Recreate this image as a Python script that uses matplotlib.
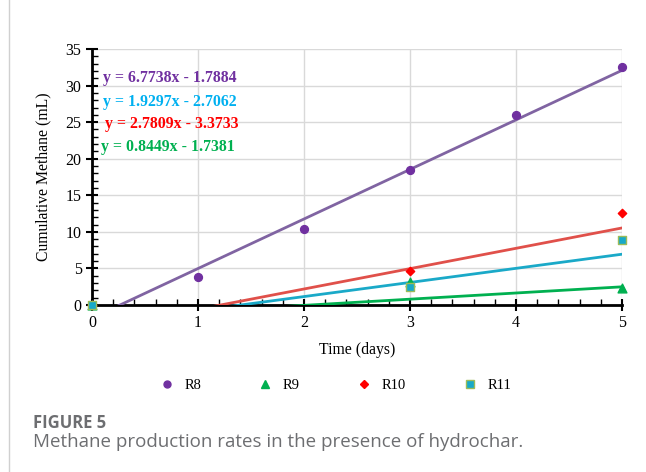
import numpy as np
import matplotlib.pyplot as plt
from matplotlib.ticker import MultipleLocator
from matplotlib.lines import Line2D

# data
days = [0, 1, 2, 3, 4, 5]
r8 = [0, 3.8, 10.4, 18.4, 26.0, 32.5]
days_b = [0, 3, 5]
r9 = [0, 3.1, 2.3]
r10 = [0, 4.7, 12.6]
r11 = [0, 2.4, 8.9]

series_names = ['R8', 'R9', 'R10', 'R11']
slopes = [6.7738, 0.8449, 2.7809, 1.9297]
intercepts = [-1.7884, -1.7381, -3.3733, -2.7062]

serif = ['Liberation Serif', 'DejaVu Serif']

fig = plt.figure(figsize=(6.46, 4.72), dpi=100)
ax = fig.add_axes([0.1424, 0.3538, 0.8204, 0.5424])

# trend lines
line_cols = ['#8064A2', '#00B050', '#E0504A', '#1AA9C8']
xx = np.linspace(0, 5, 200)
for k in range(4):
    yy = slopes[k] * xx + intercepts[k]
    ax.plot(xx, yy, color=line_cols[k], lw=2, zorder=3)

# points
ax.scatter(days, r8, marker='o', s=32, color='#7030A0', zorder=5, clip_on=False)
ax.scatter(days_b, r9, marker='^', s=40, color='#00B050', zorder=5, clip_on=False)
ax.scatter(days_b, r10, marker='D', s=18, color='#FF0000', zorder=5, clip_on=False)
ax.scatter(days_b, r11, marker='s', s=40, color='#17A9C9', edgecolors='#9BBB59',
           linewidths=1, zorder=6, clip_on=False)

ax.set_xlim(0, 5)
ax.set_ylim(0, 35)
ax.xaxis.set_major_locator(MultipleLocator(1))
ax.xaxis.set_minor_locator(MultipleLocator(0.2))
ax.yaxis.set_major_locator(MultipleLocator(5))
ax.yaxis.set_minor_locator(MultipleLocator(1))
ax.grid(True, which='major', color='#D9D9D9', lw=1, zorder=0)
ax.set_axisbelow(True)
for s in ['top', 'right']:
    ax.spines[s].set_visible(False)
for s in ['left', 'bottom']:
    ax.spines[s].set_linewidth(2)
ax.tick_params(which='major', direction='inout', length=8, width=1.5, labelsize=11.5)
ax.tick_params(axis='x', which='major', pad=3)
ax.tick_params(which='minor', direction='in', length=4, width=1)
for lab in ax.get_xticklabels() + ax.get_yticklabels():
    lab.set_fontfamily(serif)

ax.set_xlabel('Time (days)', fontsize=11.3, family=serif, labelpad=8)
ax.set_ylabel('Cumulative Methane (mL)', fontsize=11.3, family=serif, labelpad=10)

# equations
eq_cols = ['#7030A0', '#00B0F0', '#FF0000', '#00B050']
eq_pos = [(103, 78), (103, 102), (105, 124), (101, 147)]
order = [0, 3, 2, 1]
for (px, py), c, k in zip(eq_pos, eq_cols, order):
    fig.text(px / 646, 1 - py / 472,
             f'y = {slopes[k]:.4f}x - {abs(intercepts[k]):.4f}',
             color=c, fontsize=11.4, fontweight='bold', family=serif, va='center')

# legend
handles = [
    Line2D([], [], ls='', marker='o', ms=5, color='#7030A0'),
    Line2D([], [], ls='', marker='^', ms=6, color='#00B050'),
    Line2D([], [], ls='', marker='D', ms=4, color='#FF0000'),
    Line2D([], [], ls='', marker='s', ms=6, color='#17A9C9', markeredgecolor='#9BBB59'),
]
fig.legend(handles, series_names, loc='center', bbox_to_anchor=(0.519, 1 - 385 / 472),
           ncol=4, frameon=False, handlelength=1.0, columnspacing=3.9,
           handletextpad=0.7, prop={'family': serif, 'size': 10.5})

# caption
fig.text(33 / 646, 1 - 423 / 472, 'FIGURE 5', fontsize=12, color='#6D6E71',
         fontweight='bold', family='Open Sans', va='center')
fig.text(33 / 646, 1 - 442 / 472, 'Methane production rates in the presence of hydrochar.',
         fontsize=13.5, color='#6D6E71', family='Open Sans', va='center')

fig.add_artist(Line2D([9 / 646, 9 / 646], [0, 1], color='#D0D0D0', lw=1))

fig.savefig('out.png', dpi=100)
